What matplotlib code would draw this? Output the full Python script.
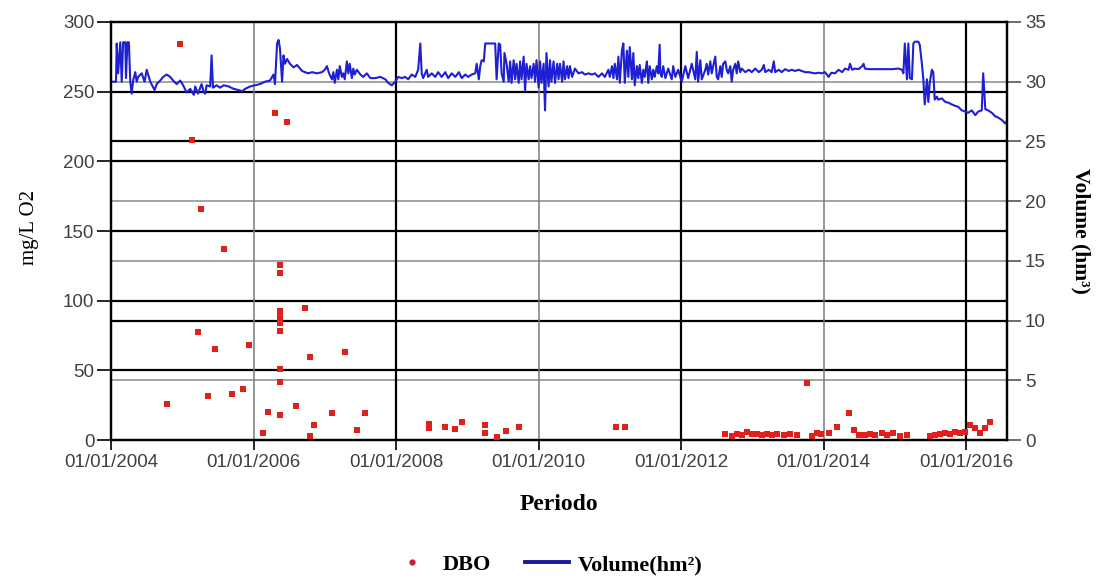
import datetime as dt
import matplotlib
matplotlib.use("Agg")
import matplotlib.pyplot as plt
import matplotlib.dates as mdates
from matplotlib.lines import Line2D

# ---------------------------------------------------------------- data
# DBO samples (decimal year, mg/L O2)
dbo_year = [
    2004.78, 2004.97, 2005.14, 2005.22, 2005.26, 2005.36, 2005.46, 2005.59,
    2005.70, 2005.85, 2005.94, 2006.13, 2006.20, 2006.30,
    2006.37, 2006.37, 2006.37, 2006.37, 2006.37, 2006.37, 2006.37, 2006.37,
    2006.37, 2006.37, 2006.47, 2006.60, 2006.72, 2006.79, 2006.79, 2006.85,
    2007.10, 2007.28, 2007.45, 2007.56,
    2008.46, 2008.46, 2008.69, 2008.83, 2008.93, 2009.24, 2009.24, 2009.42,
    2009.54, 2009.73, 2011.09, 2011.21,
    2012.62, 2012.71, 2012.78, 2012.85, 2012.92, 2012.99, 2013.06, 2013.13,
    2013.20, 2013.27, 2013.34, 2013.44, 2013.53, 2013.62, 2013.77,
    2013.83, 2013.90, 2013.97, 2014.07, 2014.19, 2014.35, 2014.42, 2014.50,
    2014.58, 2014.65, 2014.72, 2014.82, 2014.89, 2014.98, 2015.07, 2015.17,
    2015.49, 2015.56, 2015.63, 2015.71, 2015.78, 2015.85, 2015.92, 2015.99,
    2016.06, 2016.13, 2016.20, 2016.27, 2016.34,
]
dbo_value = [
    26, 284, 215, 77.5, 166, 31.6, 65, 137,
    33, 36.6, 68, 5, 20, 235,
    125.6, 120, 92.6, 90.4, 87.6, 84, 78, 51,
    41.6, 18, 228, 24.4, 95, 59.5, 3, 10.5,
    19.4, 63, 7, 19.4,
    11.5, 8.6, 9, 8, 13, 10.8, 5, 2,
    6.5, 9, 9, 9,
    4.1, 3.1, 4.1, 3.6, 6.0, 4.1, 4.1, 3.6,
    4.1, 3.6, 4.1, 3.6, 4.1, 3.6, 41,
    3.1, 4.8, 4.1, 4.8, 9.5, 19.6, 7.2, 3.6,
    3.6, 4.1, 3.6, 4.8, 3.6, 4.8, 3.1, 3.6,
    3.1, 3.6, 4.1, 4.8, 4.1, 6.0, 4.8, 6.0,
    10.8, 8.4, 4.8, 8.4, 13.2,
]

# Reservoir volume (decimal year, hm3)
vol_year = [
    2004.00, 2004.03, 2004.07, 2004.08, 2004.10, 2004.13, 2004.15, 2004.17,
    2004.20, 2004.21, 2004.23, 2004.25, 2004.27, 2004.29, 2004.31, 2004.34,
    2004.36, 2004.38, 2004.43, 2004.47, 2004.50, 2004.55, 2004.61, 2004.64,
    2004.69, 2004.73, 2004.78, 2004.83, 2004.87, 2004.92, 2004.97, 2005.01,
    2005.06, 2005.11, 2005.16, 2005.18, 2005.20, 2005.22, 2005.25, 2005.27,
    2005.30, 2005.32, 2005.34, 2005.39, 2005.41, 2005.43, 2005.48, 2005.53,
    2005.58, 2005.65, 2005.72, 2005.79, 2005.84, 2005.88, 2005.95, 2006.02,
    2006.09, 2006.16, 2006.23, 2006.28, 2006.30, 2006.33, 2006.35, 2006.37,
    2006.40, 2006.42, 2006.44, 2006.47, 2006.51, 2006.56, 2006.61, 2006.68,
    2006.72, 2006.77, 2006.82, 2006.89, 2006.96, 2007.00, 2007.03, 2007.06,
    2007.10, 2007.12, 2007.14, 2007.17, 2007.19, 2007.21, 2007.24, 2007.26,
    2007.28, 2007.31, 2007.33, 2007.35, 2007.38, 2007.40, 2007.42, 2007.45,
    2007.50, 2007.54, 2007.59, 2007.64, 2007.71, 2007.78, 2007.85, 2007.89,
    2007.94, 2007.99, 2008.03, 2008.08, 2008.13, 2008.17, 2008.22, 2008.27,
    2008.31, 2008.34, 2008.36, 2008.38, 2008.43, 2008.45, 2008.50, 2008.55,
    2008.59, 2008.64, 2008.69, 2008.73, 2008.78, 2008.83, 2008.88, 2008.92,
    2008.97, 2009.01, 2009.06, 2009.11, 2009.13, 2009.16, 2009.18, 2009.20,
    2009.23, 2009.25, 2009.32, 2009.39, 2009.41, 2009.44, 2009.46, 2009.48,
    2009.51, 2009.52, 2009.55, 2009.58, 2009.60, 2009.62, 2009.65, 2009.67,
    2009.69, 2009.72, 2009.74, 2009.76, 2009.79, 2009.81, 2009.83, 2009.86,
    2009.88, 2009.90, 2009.93, 2009.95, 2009.97, 2010.00, 2010.02, 2010.04,
    2010.07, 2010.09, 2010.11, 2010.14, 2010.16, 2010.18, 2010.21, 2010.23,
    2010.26, 2010.28, 2010.30, 2010.33, 2010.35, 2010.37, 2010.40, 2010.42,
    2010.44, 2010.47, 2010.51, 2010.56, 2010.61, 2010.65, 2010.70, 2010.75,
    2010.79, 2010.84, 2010.89, 2010.93, 2010.98, 2011.00, 2011.03, 2011.05,
    2011.07, 2011.10, 2011.12, 2011.14, 2011.17, 2011.19, 2011.21, 2011.24,
    2011.26, 2011.28, 2011.31, 2011.33, 2011.35, 2011.38, 2011.40, 2011.42,
    2011.45, 2011.47, 2011.49, 2011.52, 2011.54, 2011.56, 2011.59, 2011.61,
    2011.63, 2011.66, 2011.68, 2011.70, 2011.71, 2011.73, 2011.75, 2011.78,
    2011.82, 2011.87, 2011.89, 2011.92, 2011.96, 2012.01, 2012.06, 2012.10,
    2012.15, 2012.20, 2012.22, 2012.24, 2012.27, 2012.29, 2012.34, 2012.36,
    2012.38, 2012.41, 2012.43, 2012.45, 2012.48, 2012.50, 2012.52, 2012.55,
    2012.57, 2012.59, 2012.62, 2012.64, 2012.66, 2012.69, 2012.71, 2012.73,
    2012.76, 2012.78, 2012.80, 2012.83, 2012.85, 2012.90, 2012.95, 2012.99,
    2013.04, 2013.09, 2013.13, 2013.16, 2013.18, 2013.23, 2013.27, 2013.30,
    2013.32, 2013.37, 2013.41, 2013.46, 2013.51, 2013.55, 2013.60, 2013.65,
    2013.69, 2013.74, 2013.79, 2013.83, 2013.88, 2013.93, 2013.97, 2014.02,
    2014.07, 2014.09, 2014.11, 2014.16, 2014.21, 2014.26, 2014.30, 2014.35,
    2014.37, 2014.40, 2014.44, 2014.49, 2014.54, 2014.56, 2014.58, 2014.63,
    2014.68, 2014.77, 2014.86, 2014.96, 2015.05, 2015.10, 2015.12, 2015.14,
    2015.17, 2015.19, 2015.21, 2015.24, 2015.26, 2015.28, 2015.33, 2015.35,
    2015.38, 2015.40, 2015.42, 2015.45, 2015.47, 2015.49, 2015.52, 2015.54,
    2015.56, 2015.59, 2015.61, 2015.66, 2015.71, 2015.75, 2015.80, 2015.85,
    2015.89, 2015.94, 2015.99, 2016.03, 2016.08, 2016.13, 2016.17, 2016.22,
    2016.24, 2016.27, 2016.31, 2016.36, 2016.41, 2016.45, 2016.50, 2016.55,
    2016.57,
]
vol_value = [
    30.0, 30.0, 30.0, 33.2, 30.7, 33.3, 30.0, 33.3,
    33.3, 30.3, 33.3, 33.3, 30.0, 29.0, 30.1, 30.8,
    30.0, 30.4, 30.7, 30.0, 31.0, 30.0, 29.3, 29.8,
    30.1, 30.4, 30.6, 30.4, 30.1, 29.8, 30.1, 29.7,
    29.1, 29.4, 28.9, 29.6, 29.3, 29.0, 29.5, 29.8,
    29.1, 29.0, 29.7, 29.6, 32.2, 29.5, 29.7, 29.5,
    29.7, 29.6, 29.4, 29.3, 29.2, 29.4, 29.6, 29.7,
    29.8, 30.0, 30.1, 30.6, 29.8, 33.2, 33.5, 32.8,
    30.0, 32.2, 31.5, 31.9, 31.5, 31.2, 31.4, 30.9,
    30.8, 30.7, 30.8, 30.7, 30.8, 31.0, 31.3, 30.7,
    30.2, 30.8, 29.9, 31.0, 30.2, 31.3, 30.4, 30.7,
    30.2, 31.7, 30.7, 31.5, 30.3, 31.1, 30.6, 31.0,
    30.6, 30.4, 30.7, 30.3, 30.3, 30.4, 30.2, 29.9,
    29.7, 30.0, 30.4, 30.3, 30.4, 30.2, 30.6, 30.4,
    31.0, 33.2, 30.7, 30.3, 31.0, 30.4, 30.7, 30.4,
    30.8, 30.4, 30.8, 30.3, 30.7, 30.4, 30.8, 30.3,
    30.6, 30.4, 30.6, 30.7, 31.5, 30.2, 31.3, 31.8,
    31.7, 33.2, 33.2, 33.2, 30.2, 33.2, 33.1, 30.7,
    30.0, 32.4, 31.5, 30.0, 31.7, 29.9, 31.8, 30.2,
    31.5, 29.9, 31.7, 30.2, 32.1, 29.2, 31.5, 30.2,
    31.3, 30.3, 31.5, 30.0, 31.8, 29.5, 31.7, 29.9,
    31.5, 27.6, 32.4, 29.6, 31.8, 30.0, 31.7, 29.9,
    31.5, 30.2, 31.5, 30.0, 31.7, 30.2, 31.3, 30.3,
    31.3, 30.4, 31.1, 30.7, 30.8, 30.6, 30.7, 30.6,
    30.7, 30.4, 30.7, 30.4, 31.0, 30.4, 31.3, 30.3,
    31.5, 30.2, 32.1, 29.9, 32.6, 33.2, 29.9, 32.6,
    30.4, 32.9, 30.2, 32.4, 29.7, 31.3, 30.3, 31.4,
    29.9, 31.0, 30.4, 31.7, 29.9, 31.3, 30.2, 31.0,
    30.4, 31.3, 30.7, 33.1, 30.7, 30.4, 31.3, 30.3,
    31.1, 30.2, 31.3, 30.4, 31.0, 30.0, 31.3, 30.3,
    31.5, 30.2, 32.5, 30.0, 31.8, 30.2, 31.0, 31.5,
    30.6, 31.7, 30.7, 31.3, 32.1, 30.4, 30.2, 31.3,
    30.4, 31.5, 31.7, 31.0, 30.7, 31.3, 30.0, 31.0,
    31.5, 30.7, 31.7, 30.8, 31.1, 30.8, 31.0, 30.8,
    31.1, 30.8, 31.0, 31.4, 30.8, 31.0, 30.8, 31.7,
    30.8, 31.0, 30.8, 31.05, 30.9, 31.0, 30.9, 31.0,
    30.9, 30.8, 30.8, 30.75, 30.7, 30.75, 30.7, 30.8,
    30.4, 30.6, 30.75, 30.7, 31.0, 30.8, 31.1, 31.0,
    31.5, 31.0, 31.1, 31.05, 31.3, 31.5, 31.1, 31.05,
    31.05, 31.05, 31.05, 31.05, 31.1, 31.0, 30.7, 33.2,
    30.2, 33.2, 30.3, 30.2, 33.2, 33.35, 33.35, 33.1,
    31.5, 30.2, 28.1, 30.2, 28.3, 29.9, 31.0, 30.8,
    28.5, 28.75, 28.5, 28.6, 28.3, 28.25, 28.1, 27.97,
    27.9, 27.6, 27.5, 27.4, 27.6, 27.2, 27.5, 27.6,
    30.7, 27.7, 27.6, 27.4, 27.1, 27.0, 26.8, 26.5,
    26.7,
]

tick_years = [2004, 2006, 2008, 2010, 2012, 2014, 2016]
left_ticks = [0, 50, 100, 150, 200, 250, 300]
right_ticks = [0, 5, 10, 15, 20, 25, 30, 35]


def to_date(y):
    year = int(y)
    start = dt.datetime(year, 1, 1)
    end = dt.datetime(year + 1, 1, 1)
    return start + (y - year) * (end - start)


dbo_dates = [to_date(y) for y in dbo_year]
vol_dates = [to_date(y) for y in vol_year]
tick_dates = [dt.datetime(y, 1, 1) for y in tick_years]

# ---------------------------------------------------------------- figure
SERIF = ["Liberation Serif", "DejaVu Serif"]
SANS = ["Liberation Sans", "DejaVu Sans"]
TICK_COLOR = "#404040"

fig = plt.figure(figsize=(10.99, 5.77), dpi=100)
ax2 = fig.add_axes([0.101, 0.2374, 0.8153, 0.7245])   # volume axis (bottom layer)
ax = ax2.twinx()                                       # DBO axis (top layer)
ax.yaxis.tick_left()
ax2.yaxis.tick_right()
ax.set_zorder(ax2.get_zorder() + 1)
ax.patch.set_visible(False)

x0 = dt.datetime(2004, 1, 1)
x1 = dt.datetime(2016, 7, 29)
ax2.set_xlim(x0, x1)
ax.set_ylim(0, 300)
ax2.set_ylim(0, 35)

# grid: DBO levels (black) and volume levels, drawn in volume units
scale = 35.0 / 300.0
for v in left_ticks[1:-1]:
    ax2.axhline(v * scale, color="black", lw=1.6, zorder=1)
for v in right_ticks[1:-1]:
    if v in (10, 25):
        ax2.axhline(v, color="black", lw=1.6, zorder=1)
    else:
        ax2.axhline(v, color="#8a8a8a", lw=1.1, zorder=1)
for i, d in enumerate(tick_dates[1:]):
    if i % 2 == 0:
        ax2.axvline(d, color="#7a7a7a", lw=1.1, zorder=1)
    else:
        ax2.axvline(d, color="black", lw=1.6, zorder=1)

# volume line
ax2.plot(vol_dates, vol_value, color="#1f1fd4", lw=1.5, zorder=3)

# DBO samples
ax.scatter(dbo_dates, dbo_value, marker="s", s=22, color="#e0201c",
           linewidths=0, zorder=4)

# axes styling
for a in (ax, ax2):
    for sp in a.spines.values():
        sp.set_color("black")
        sp.set_linewidth(1.6)

ax2.set_xticks(tick_dates)
ax2.xaxis.set_major_formatter(mdates.DateFormatter("%d/%m/%Y"))
ax.set_yticks(left_ticks)
ax2.set_yticks(right_ticks)

ax.tick_params(axis="y", direction="out", length=10, width=1.2, pad=2,
               labelsize=13.5, labelcolor=TICK_COLOR, color="black")
ax2.tick_params(axis="y", direction="out", length=10, width=1.2, pad=3,
                labelsize=13.5, labelcolor=TICK_COLOR, color="#555555")
ax2.tick_params(axis="x", direction="out", length=7, width=1.2, pad=3,
                labelsize=13.5, labelcolor=TICK_COLOR, color="black")
for lbl in ax.get_yticklabels() + ax2.get_yticklabels() + ax2.get_xticklabels():
    lbl.set_family(SANS)

# axis titles
fig.text(0.027, 0.605, "mg/L O2", rotation=90, ha="center", va="center",
         family=SERIF, fontsize=15)
fig.text(0.983, 0.600, "Volume (hm³)", rotation=270, ha="center",
         va="center", family=SERIF, fontsize=15.5, fontweight="bold")
fig.text(0.509, 0.125, "Periodo", ha="center", va="center",
         family=SERIF, fontsize=17, fontweight="bold")

# legend
handles = [
    Line2D([], [], ls="none", marker="o", markersize=4.5,
           markerfacecolor="#c8203a", markeredgewidth=0),
    Line2D([], [], color="#1a1a9c", lw=2.8),
]
fig.legend(handles, ["DBO", "Volume(hm²)"], loc="center",
           bbox_to_anchor=(0.497, 0.021), ncol=2, frameon=False,
           prop={"family": SERIF, "weight": "bold", "size": 16},
           handlelength=2.0, handletextpad=0.4, columnspacing=1.5)

fig.savefig("out.png", dpi=100)
